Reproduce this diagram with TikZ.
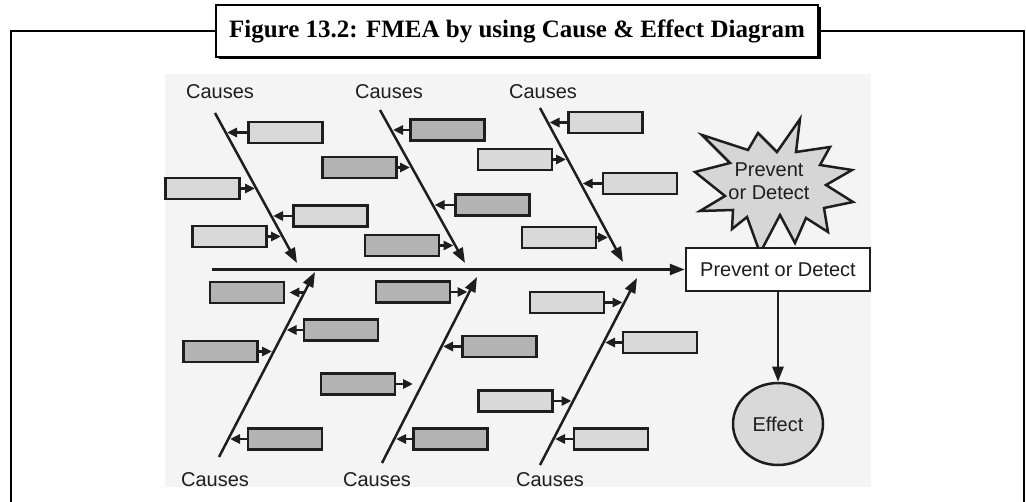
\documentclass[tikz,border=0pt]{standalone}
\usepackage{fontspec}
\setmainfont{Liberation Sans}
\newfontfamily\titlefont{Liberation Serif}
\usetikzlibrary{arrows.meta,shapes.geometric,shadows}
\definecolor{panel}{HTML}{F4F4F4}
\definecolor{boxlight}{HTML}{D9D9D9}
\definecolor{boxdark}{HTML}{B3B3B3}
\definecolor{starfill}{HTML}{D6D6D6}
\definecolor{ink}{HTML}{1E1E1E}
\begin{document}
\begin{tikzpicture}[x=1pt,y=-1pt,
  frame/.style={line width=2.8pt,black},
  bone/.style={line width=2.5pt,draw=ink,-{Triangle[length=15pt,width=11pt]}},
  tick/.style={line width=2.5pt,draw=ink,-{Triangle[length=10pt,width=9pt]}},
  cbox/.style={draw=ink,line width=2.5pt,minimum width=74pt,minimum height=21pt,inner sep=0pt},
  boxL/.style={cbox,fill=boxlight},
  boxD/.style={cbox,fill=boxdark},
  lbl/.style={font=\fontsize{20}{23}\selectfont,text=ink,inner sep=0pt},
]
\useasboundingbox (0,0) rectangle (1026,502);

% grey panel behind the fishbone
\fill[panel] (165,74) rectangle (871,487);

% title and the open frame hanging from it
\node[draw=black,fill=white,line width=2.2pt,minimum width=602pt,minimum height=52pt,
      drop shadow={shadow xshift=2.5pt,shadow yshift=-2.5pt,fill=black,opacity=1},
      font=\titlefont\bfseries\fontsize{25}{30}\selectfont] (title) at (517,31)
      {Figure 13.2: FMEA by using Cause \& Effect Diagram};
\coordinate (fl) at (11,505);
\coordinate (fr) at (1024,505);
\draw[frame] (title.west) -| (fl);
\draw[frame] (title.east) -| (fr);

% bones
\coordinate (u1s) at (215,113); \coordinate (u1e) at (297,263);
\coordinate (u2s) at (380,110); \coordinate (u2e) at (465,263);
\coordinate (u3s) at (540,108); \coordinate (u3e) at (623,262);
\coordinate (l1s) at (219,457); \coordinate (l1e) at (315,272);
\coordinate (l2s) at (382,463); \coordinate (l2e) at (477,277);
\coordinate (l3s) at (540,465); \coordinate (l3e) at (637,278);
\draw[bone] (u1s) -- (u1e);
\draw[bone] (u2s) -- (u2e);
\draw[bone] (u3s) -- (u3e);
\draw[bone] (l1s) -- (l1e);
\draw[bone] (l2s) -- (l2e);
\draw[bone] (l3s) -- (l3e);

% cause labels
\node[lbl] (c1) at (220,92) {Causes};
\node[lbl] (c2) at (389,92) {Causes};
\node[lbl] (c3) at (543,92) {Causes};
\node[lbl] (c4) at (215,480) {Causes};
\node[lbl] (c5) at (377,480) {Causes};
\node[lbl] (c6) at (550,480) {Causes};

% cause boxes with their short arrows onto the bones
\foreach \n/\x/\y/\s/\side/\tx in {
  A/285.5/132.5/boxL/west/227, B/202.5/188.5/boxL/east/255,
  C/330.5/216/boxL/west/273,   D/229.5/236.5/boxL/east/281,
  E/447.5/130/boxD/west/393,   F/359.5/167.5/boxD/east/410,
  G/492.5/205/boxD/west/434.5, H/402/245.5/boxD/east/453.5,
  I/605.5/122.5/boxL/west/549.5, J/515/159.5/boxL/east/566,
  K/640/183.5/boxL/west/582.5, L/559/237.5/boxL/east/608,
  N/341/330/boxD/west/286.5,   O/220.5/351.5/boxD/east/272,
  P/285/439/boxD/west/230,
  Q/413/292/boxD/east/467.5,   R/499.5/346.5/boxD/west/443,
  S/358/384/boxD/east/413,     U/450.5/439/boxD/west/396,
  V/567/302.5/boxL/east/622.5, W/660/342.5/boxL/west/605,
  T/515.5/401/boxL/east/571.5, Z/611/439/boxL/west/555}
{
  \node[\s] (\n) at (\x,\y) {};
  \coordinate (t\n) at (\tx,\y);
  \draw[tick] (\n.\side) -- (t\n);
}
\node[boxD] (M) at (247,292.5) {};
\coordinate (tM) at (304,292.5);
\draw[tick,shorten >=4pt] (tM) -- (M.east);

% starburst
\filldraw[fill=starfill,draw=ink,line width=2.5pt,line join=miter]
  (800,119) -- (796,152) -- (830,147) -- (820,165) -- (852,170) -- (826,185)
  -- (853,202) -- (824,208) -- (828,232) -- (806,218) -- (795,243) -- (780,215)
  -- (760,253) -- (747,217) -- (732,229) -- (733,210) -- (700,211) -- (725,196)
  -- (695,172) -- (730,163) -- (702,135) -- (748,150) -- (758,133) -- (777,152)
  -- cycle;
\node[lbl,align=center] (star) at (769,181) {Prevent\\or Detect};

% head of the fish and the effect
\node[draw=ink,fill=white,line width=2.5pt,minimum width=184pt,minimum height=43pt,lbl]
  (pd) at (778,269.5) {Prevent or Detect};
\node[ellipse,draw=ink,fill=boxlight,line width=2.5pt,minimum width=90pt,
      minimum height=82pt,lbl] (eff) at (778,424) {Effect};

\coordinate (tail) at (212,269.5);
\draw[bone] (tail) -- (pd);
\draw[bone] (pd) -- (eff);
\end{tikzpicture}
\end{document}
